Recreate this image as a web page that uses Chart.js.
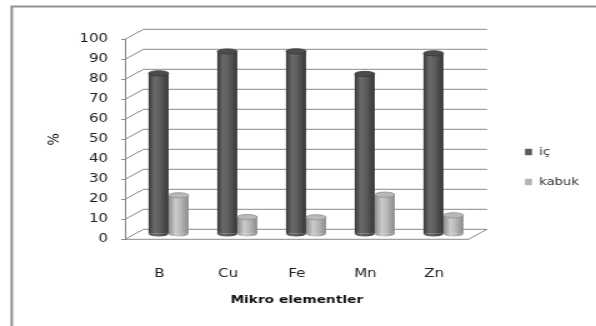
<!DOCTYPE html>
<html>
<head>
<meta charset="utf-8">
<script src="https://cdn.jsdelivr.net/npm/chart.js@4"></script>
<style>
  html, body { margin: 0; padding: 0; background: #fff; overflow: hidden; }
  /* the figure is laid out on a narrower canvas and widened to the page */
  #wrap { width: 477px; height: 326px; transform: scaleX(1.2495); transform-origin: 0 0; }
  canvas { display: block; }
</style>
</head>
<body>
<div id="wrap"><canvas id="c" width="477" height="326" style="width:477px;height:326px"></canvas></div>
<script>
// ---- data ----
const categories = ['B', 'Cu', 'Fe', 'Mn', 'Zn'];
const icValues = [80.5, 91.4, 91.5, 80.2, 90.5];
const kabukValues = [19.5, 8.6, 8.5, 19.8, 9.5];
const seriesNames = ['iç', 'kabuk'];
const yMin = 0, yMax = 100, yStep = 10;
const xTitle = 'Mikro elementler';
const yTitle = '%';

// ---- look ----
const DEPTH_X = 14.8;     // back wall offset
const DEPTH_Y = 10;
const CAT_PCT = 0.582;
const GRID = '#8a8a8a';
const TEXT = '#222';
const styles = {
  'iç': {
    stops: [[0, '#3a3a3a'], [0.3, '#6a6a6a'], [0.55, '#5e5e5e'], [1, '#363636']],
    cap: '#4c4c4c', capEdge: '#3a3a3a', key: '#5c5c5c'
  },
  'kabuk': {
    stops: [[0, '#8c8c8c'], [0.35, '#cbcbcb'], [0.6, '#b8b8b8'], [1, '#8a8a8a']],
    cap: '#b9b9b9', capEdge: '#8e8e8e', key: '#b4b4b4'
  }
};
const CAP_RY = 2.6;

Chart.defaults.font.family = "'DejaVu Sans', Verdana, sans-serif";

function gradientFor(ctx2d, left, width, stops) {
  const g = ctx2d.createLinearGradient(left, 0, left + width, 0);
  stops.forEach(([o, c]) => g.addColorStop(o, c));
  return g;
}

function barFill(name) {
  return (c) => {
    const chart = c.chart;
    const xs = chart.scales.x;
    if (c.type !== 'data' || !xs || !chart.chartArea) return styles[name].key;
    const step = xs.getPixelForValue(1) - xs.getPixelForValue(0);
    const n = chart.data.datasets.length;
    const bw = step * CAT_PCT / n;
    const left = xs.getPixelForValue(c.dataIndex) - step * CAT_PCT / 2 + c.datasetIndex * bw;
    return gradientFor(chart.ctx, left, bw, styles[name].stops);
  };
}

// frame, back wall and floor of the 3-D box
const boxPlugin = {
  id: 'box3d',
  beforeDraw(chart) {
    const ctx = chart.ctx;
    ctx.save();
    ctx.fillStyle = '#fff';
    ctx.fillRect(0, 0, chart.width, chart.height);
    ctx.strokeStyle = '#8f8f8f';
    ctx.lineWidth = 2;
    ctx.beginPath();
    ctx.moveTo(9.4, 326);
    ctx.lineTo(9.4, 6.6);
    ctx.lineTo(chart.width, 6.6);
    ctx.stroke();
    ctx.restore();
  },
  beforeDatasetsDraw(chart) {
    const ctx = chart.ctx;
    const ys = chart.scales.y;
    const {left, right} = chart.chartArea;
    ctx.save();
    ctx.strokeStyle = GRID;
    ctx.lineWidth = 1;
    ys.ticks.forEach(t => {
      const fy = ys.getPixelForValue(t.value);
      ctx.beginPath();
      ctx.moveTo(left, fy);
      ctx.lineTo(left + DEPTH_X, fy - DEPTH_Y);
      ctx.lineTo(right + DEPTH_X, fy - DEPTH_Y);
      ctx.stroke();
    });
    // floor front edge and right edge
    const f0 = ys.getPixelForValue(yMin);
    ctx.beginPath();
    ctx.moveTo(left, f0);
    ctx.lineTo(right, f0);
    ctx.lineTo(right + DEPTH_X, f0 - DEPTH_Y);
    ctx.stroke();
    ctx.restore();
    // bars stand half way into the box
    ctx.save();
    ctx.translate(DEPTH_X / 2, -DEPTH_Y / 2);
  },
  afterDatasetsDraw(chart) {
    const ctx = chart.ctx;
    chart.data.datasets.forEach((ds, i) => {
      const st = styles[ds.label];
      chart.getDatasetMeta(i).data.forEach(el => {
        const w = el.width, x0 = el.x - w / 2;
        // rounded foot
        ctx.beginPath();
        ctx.ellipse(el.x, el.base, w / 2, CAP_RY, 0, 0, Math.PI);
        ctx.fillStyle = gradientFor(ctx, x0, w, st.stops);
        ctx.fill();
        // top face
        ctx.beginPath();
        ctx.ellipse(el.x, el.y, w / 2, CAP_RY, 0, 0, Math.PI * 2);
        ctx.fillStyle = st.cap;
        ctx.fill();
        ctx.lineWidth = 0.8;
        ctx.strokeStyle = st.capEdge;
        ctx.stroke();
      });
    });
    ctx.restore();
  },
  afterDraw(chart) {
    // series key
    const ctx = chart.ctx;
    ctx.save();
    ctx.font = "10.5px 'DejaVu Sans'";
    ctx.textBaseline = 'middle';
    ctx.textAlign = 'left';
    const rows = [152, 182];
    chart.data.datasets.forEach((ds, i) => {
      const y = rows[i];
      ctx.fillStyle = styles[ds.label].key;
      ctx.fillRect(420.2, y - 3.2, 5.6, 6.4);
      ctx.fillStyle = '#333';
      ctx.fillText(ds.label, 431.5, y);
    });
    ctx.restore();
  }
};

new Chart(document.getElementById('c'), {
  type: 'bar',
  data: {
    labels: categories,
    datasets: [
      { label: seriesNames[0], data: icValues, backgroundColor: barFill(seriesNames[0]), borderWidth: 0, clip: false },
      { label: seriesNames[1], data: kabukValues, backgroundColor: barFill(seriesNames[1]), borderWidth: 0, clip: false }
    ]
  },
  options: {
    responsive: false,
    animation: false,
    devicePixelRatio: 1,
    events: [],
    layout: { padding: { left: 32, right: 102, top: 39.3, bottom: 15.4 } },
    datasets: { bar: { categoryPercentage: CAT_PCT, barPercentage: 1 } },
    plugins: { legend: { display: false }, tooltip: { enabled: false } },
    scales: {
      x: {
        grid: { display: false },
        border: { display: false },
        ticks: { padding: 19.5, color: TEXT, font: { size: 12 } },
        title: { display: true, text: xTitle, color: '#111', font: { size: 11, weight: 'bold' }, padding: { top: 4, bottom: 4 } },
        afterFit(s) { s.height = 71.3; }
      },
      y: {
        min: yMin, max: yMax,
        ticks: { stepSize: yStep, padding: 10.6, color: TEXT, font: { size: 12 } },
        grid: { drawOnChartArea: false, drawTicks: true, tickLength: 3, color: GRID },
        border: { display: true, color: GRID, width: 1 },
        title: { display: true, text: yTitle, color: '#111', font: { size: 13 } },
        afterFit(s) { s.width = 68; }
      }
    }
  },
  plugins: [boxPlugin]
});
</script>
</body>
</html>
